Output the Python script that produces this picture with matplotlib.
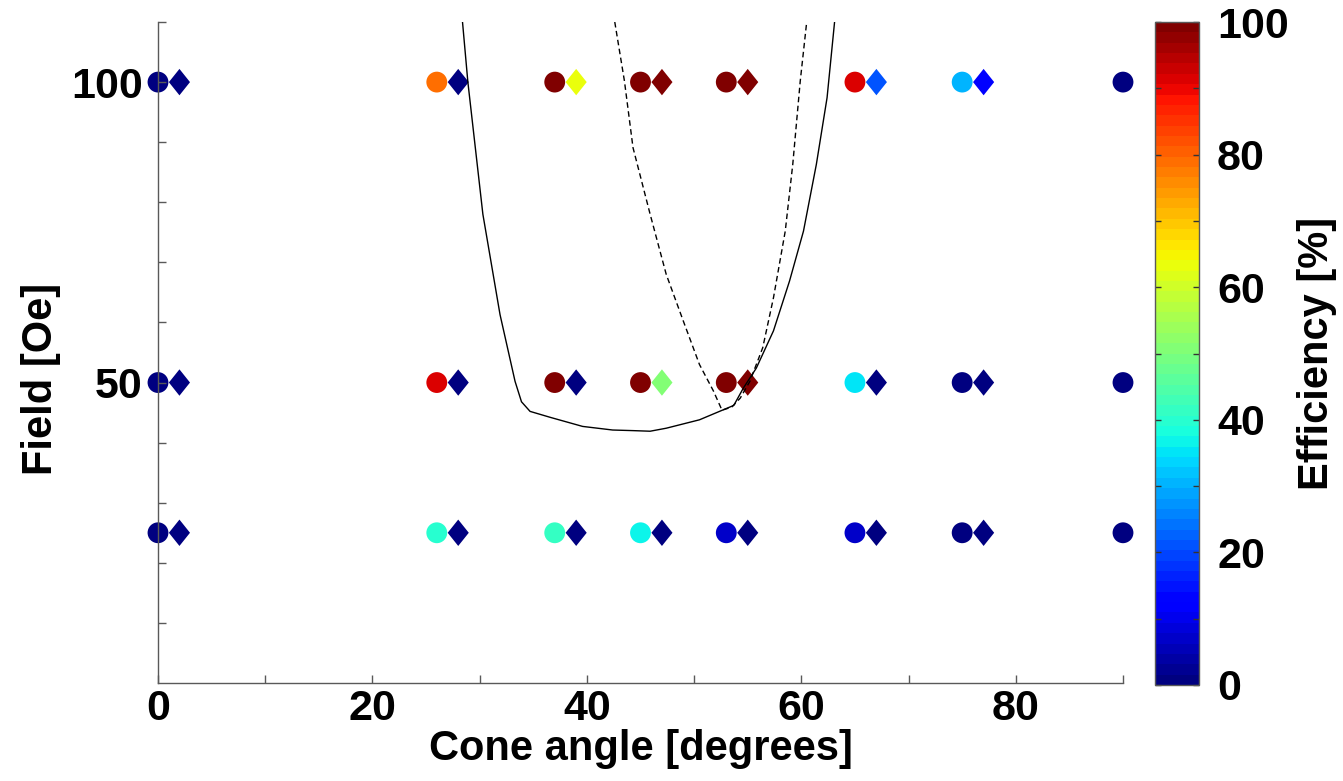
import numpy as np
import matplotlib
matplotlib.use("Agg")
import matplotlib.pyplot as plt
from matplotlib.path import Path

plt.rcParams["font.family"] = ["Liberation Sans", "DejaVu Sans"]
plt.rcParams["font.weight"] = "bold"

# measured points
fields = [100, 50, 25]
circle_angles = [0, 26, 37, 45, 53, 65, 75, 90]
diamond_angles = [2, 28, 39, 47, 55, 67, 77]

# efficiency [%] per row (field 100, 50, 25)
circle_eff = [
    [1, 79, 100, 100, 100, 92, 31, 1],
    [1, 92, 100, 100, 100, 35, 1, 1],
    [1, 40, 41, 37, 7, 7, 1, 1],
]
diamond_eff = [
    [1, 1, 64, 100, 100, 21, 11],
    [1, 1, 1, 50, 100, 1, 1],
    [1, 1, 1, 1, 1, 1, 1],
]

# model boundaries
solid_x = [28.4, 28.9, 30.3, 31.9, 33.3, 33.9, 34.7, 36.6, 39.6, 42.4, 44.3,
           45.9, 47.4, 50.5, 53.7, 54.6, 55.8, 57.4, 58.9, 60.2, 61.4, 62.4, 63.1]
solid_y = [110, 100, 78, 61.3, 50.2, 46.8, 45.2, 44.2, 42.7, 42.1, 42.0,
           41.9, 42.4, 43.8, 46.2, 49.1, 52.4, 58.6, 66.9, 75.2, 86.3, 97.4, 110]
dashed_x = [42.6, 43.5, 44.3, 45.9, 47.4, 49.0, 50.5, 51.8, 52.6, 53.5, 54.3,
            55.2, 56.4, 57.4, 58.5, 59.2, 59.9, 60.5]
dashed_y = [110, 100.2, 89.1, 78, 68, 60.2, 53, 48.6, 45.4, 45.9, 47.4,
            50.2, 55.8, 64.1, 75.2, 86.3, 100.2, 110]

cmap = plt.get_cmap("jet", 64)
diamond = Path([(0, 1), (0.8, 0), (0, -1), (-0.8, 0), (0, 1)],
               [Path.MOVETO, Path.LINETO, Path.LINETO, Path.LINETO, Path.CLOSEPOLY])

fig = plt.figure(figsize=(13.43, 7.81), dpi=100)
ax = fig.add_axes([158 / 1343, 98 / 781, 965 / 1343, 661 / 781])
cax = fig.add_axes([1155 / 1343, 96 / 781, 44 / 1343, 663 / 781])

for i, f in enumerate(fields):
    sc = ax.scatter(circle_angles, [f] * len(circle_angles), c=circle_eff[i],
                    cmap=cmap, vmin=0, vmax=100, marker="o", s=15 ** 2,
                    linewidths=0, clip_on=False, zorder=1)
    ax.scatter(diamond_angles, [f] * len(diamond_angles), c=diamond_eff[i],
               cmap=cmap, vmin=0, vmax=100, marker=diamond, s=19 ** 2,
               linewidths=0, clip_on=False, zorder=1)

ax.plot(solid_x, solid_y, color="black", lw=1.0, zorder=2)
ax.plot(dashed_x, dashed_y, color="black", lw=1.0, ls=(0, (4, 2.5)), zorder=2)

ax.set_xlim(0, 90)
ax.set_ylim(0, 110)
ax.set_xticks([0, 20, 40, 60, 80])
ax.set_xticks(np.arange(10, 91, 20), minor=True)
ax.set_yticks([50, 100])
ax.set_yticks([10, 20, 30, 40, 60, 70, 80, 90, 110], minor=True)
for s in ["top", "right"]:
    ax.spines[s].set_visible(False)
for s in ["left", "bottom"]:
    ax.spines[s].set_color("0.35")
    ax.spines[s].set_linewidth(1.0)
    ax.spines[s].set_zorder(3)
ax.tick_params(which="both", direction="in", length=6, width=1, color="0.35")
ax.tick_params(axis="x", labelsize=31, pad=4)
ax.tick_params(axis="y", labelsize=31, pad=11)
ax.set_xlabel("Cone angle [degrees]", fontsize=30, fontweight="bold", labelpad=0)
ax.set_ylabel("Field [Oe]", fontsize=30, fontweight="bold")
ax.yaxis.set_label_coords(-0.1, 0.46)

cbar = fig.colorbar(sc, cax=cax)
cbar.set_ticks([0, 20, 40, 60, 80, 100])
cbar.ax.set_yticks(np.arange(10, 100, 20), minor=True)
cbar.outline.set_edgecolor("0.35")
cbar.outline.set_linewidth(1.0)
cax.yaxis.set_ticks_position("both")
cax.tick_params(which="both", direction="in", length=4, width=1, color="0.2",
                labelleft=False, labelright=True, labelsize=31, pad=13)
cbar.set_label("Efficiency [%]", fontsize=30, fontweight="bold", labelpad=6)

fig.savefig("out.png", dpi=100, facecolor="white")
